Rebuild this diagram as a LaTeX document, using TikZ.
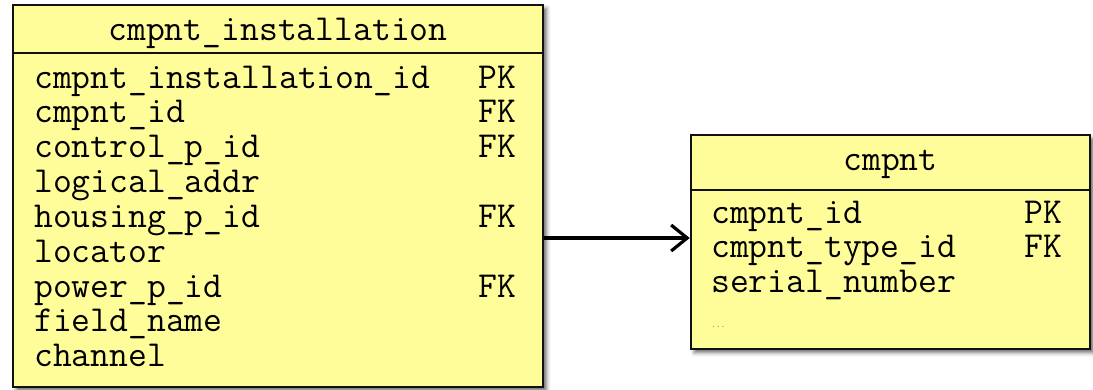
\documentclass[tikz,border=0pt]{standalone}
\usepackage{fontspec}
\usetikzlibrary{arrows.meta,shadows.blur}
\definecolor{entfill}{HTML}{FFFC9A}
\definecolor{entline}{HTML}{111111}
\newcommand{\entfont}{\ttfamily\fontsize{36.6}{38}\selectfont}
\begin{document}
\begin{tikzpicture}[x=1pt,y=-1pt,
  entity/.style={draw=entline,line width=2.6pt,fill=entfill,inner sep=0pt,
    blur shadow={shadow xshift=3.5pt,shadow yshift=-3.5pt,shadow blur radius=4pt,shadow opacity=60}},
  divider/.style={draw=entline,line width=2.4pt},
  field/.style={anchor=base west,inner sep=0pt,font=\entfont,text=black},
  title/.style={anchor=base,inner sep=0pt,font=\entfont,text=black},
  fkey/.style={field},
  rel/.style={draw=black,line width=3.2pt,-{Straight Barb[length=16pt,width=26pt,line width=3.2pt]}}
]
\useasboundingbox (0,0) rectangle (1093,389);

% entity: cmpnt_installation
\node[entity,minimum width=530pt,minimum height=382pt] (inst) at (278,196) {};
\coordinate (instdiv) at (0,53);
\draw[divider] (inst.west |- instdiv) -- (inst.east |- instdiv);
\node[title] (instT) at (278,40) {cmpnt\_installation};
\node[field] (i1) at (34,88)    {cmpnt\_installation\_id};
\node[field] (i2) at (34,122.5) {cmpnt\_id};
\node[field] (i3) at (34,157)   {control\_p\_id};
\node[field] (i4) at (34,192)   {logical\_addr};
\node[field] (i5) at (34,227)   {housing\_p\_id};
\node[field] (i6) at (34,262)   {locator};
\node[field] (i7) at (34,297)   {power\_p\_id};
\node[field] (i8) at (34,331)   {field\_name};
\node[field] (i9) at (34,366)   {channel};
\node[fkey] (k1) at (478,88)    {PK};
\node[fkey] (k2) at (478,122.5) {FK};
\node[fkey] (k3) at (478,157)   {FK};
\node[fkey] (k5) at (478,227)   {FK};
\node[fkey] (k7) at (478,297)   {FK};

% entity: cmpnt
\node[entity,minimum width=399pt,minimum height=214pt] (cmp) at (890.5,242) {};
\coordinate (cmpdiv) at (0,190);
\draw[divider] (cmp.west |- cmpdiv) -- (cmp.east |- cmpdiv);
\node[title] (cmpT) at (890.5,170) {cmpnt};
\node[field] (c1) at (711,223) {cmpnt\_id};
\node[field] (c2) at (711,257) {cmpnt\_type\_id};
\node[field] (c3) at (711,292) {serial\_number};
\node[anchor=base west,inner sep=0pt,font=\ttfamily\fontsize{9}{10}\selectfont,text=gray] (c4) at (711,327) {...};
\node[fkey] (ck1) at (1024,223) {PK};
\node[fkey] (ck2) at (1024,257) {FK};

% relationship
\coordinate (rely) at (0,238);
\draw[rel] (inst.east |- rely) -- (cmp.west |- rely);
\end{tikzpicture}
\end{document}
